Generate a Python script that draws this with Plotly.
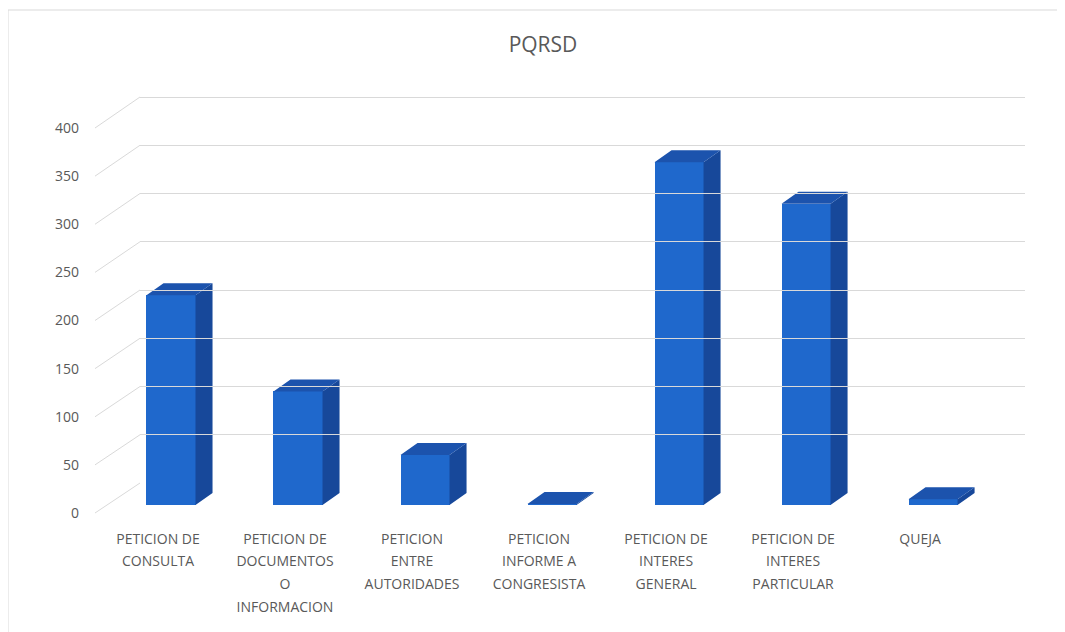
import plotly.graph_objects as go

# datos
categorias = [
    ['PETICION DE', 'CONSULTA'],
    ['PETICION DE', 'DOCUMENTOS', 'O', 'INFORMACION'],
    ['PETICION', 'ENTRE', 'AUTORIDADES'],
    ['PETICION', 'INFORME A', 'CONGRESISTA'],
    ['PETICION DE', 'INTERES', 'GENERAL'],
    ['PETICION DE', 'INTERES', 'PARTICULAR'],
    ['QUEJA'],
]
valores = [218, 118, 52, 1, 356, 313, 6]
y_ticks = [0, 50, 100, 150, 200, 250, 300, 350, 400]

W, H = 1065, 632
OFF = 8  # margen del body de la pagina
gris = '#595959'

# geometria en pixeles (frente de las barras y pared del fondo)
front_x = (100, 1025)
front_y0, front_y400 = 505, 120
back_x = (140, 1025)
back_y0, back_y400 = 483, 97
x_rng = (-0.559, 6.724)
y_top = 420  # un poco mas que 400 para que se vea la ultima linea

ancho = 0.386         # ancho de la barra en unidades de categoria
dx, dy = 0.134, 12.5  # profundidad de la barra


def px(v):
    return (v - OFF) / W


def py(v):
    return (H - (v - OFF)) / H


def escala(y0, y400, v):
    return y0 - (y0 - y400) * v / 400


frente_c = '#1f68cc'
lado_c = '#17489a'
tapa_c = '#1c53ad'

# etiquetas con interlineado amplio
ticktext = ['<br>'.join(f'<span style="font-size:14px">{s}</span>' for s in c)
            for c in categorias]

fig = go.Figure()

xs = list(range(len(valores)))

# eje de la pared del fondo (solo lineas de cuadricula)
fig.add_trace(go.Scatter(x=[0], y=[0], xaxis='x2', yaxis='y2', mode='markers',
                         marker=dict(opacity=0), hoverinfo='skip', showlegend=False))

fig.add_trace(go.Bar(
    x=xs, y=valores, width=ancho,
    marker=dict(color=frente_c, line=dict(width=0)),
    hoverinfo='y', showlegend=False
))

# caras laterales y superiores
lx, ly, tx, ty = [], [], [], []
for x, v in zip(xs, valores):
    r = x + ancho / 2
    l = x - ancho / 2
    lx += [r, r + dx, r + dx, r, r, None]
    ly += [0, dy, v + dy, v, 0, None]
    tx += [l, l + dx, r + dx, r, l, None]
    ty += [v, v + dy, v + dy, v, v, None]

fig.add_trace(go.Scatter(x=lx, y=ly, fill='toself', fillcolor=lado_c, mode='lines',
                         line=dict(width=0, color=lado_c), hoverinfo='skip', showlegend=False))
fig.add_trace(go.Scatter(x=tx, y=ty, fill='toself', fillcolor=tapa_c, mode='lines',
                         line=dict(width=0, color=tapa_c), hoverinfo='skip', showlegend=False))

# lineas diagonales entre etiquetas y pared
shapes = []
for t in y_ticks:
    yf = escala(front_y0, front_y400, t) + 8
    yb = escala(back_y0, back_y400, t)
    shapes.append(dict(type='line', xref='paper', yref='paper',
                       x0=px(95), y0=py(yf), x1=px(back_x[0]), y1=py(yb),
                       line=dict(color='#d9d9d9', width=1), layer='below'))

# borde del grafico
shapes.append(dict(type='rect', xref='paper', yref='paper',
                   x0=px(8), y0=-0.02, x1=px(1061), y1=py(10),
                   line=dict(color='#d9d9d9', width=1), layer='below'))

fig.update_layout(
    width=W, height=H,
    margin=dict(l=0, r=0, t=0, b=0, autoexpand=False),
    paper_bgcolor='white',
    plot_bgcolor='rgba(0,0,0,0)',
    font=dict(family='Open Sans', color=gris, size=12),
    title=dict(text='PQRSD', x=px(543), xanchor='center', y=py(45), yanchor='middle',
               font=dict(size=21, color=gris)),
    xaxis=dict(domain=[px(front_x[0]), px(front_x[1])], range=list(x_rng),
               tickmode='array', tickvals=xs, ticktext=ticktext,
               showgrid=False, zeroline=False, showline=False, ticks='',
               ticklabelstandoff=20, ticklabelshift=-13,
               tickfont=dict(size=17.5, color=gris), fixedrange=True),
    yaxis=dict(domain=[py(front_y0), py(front_y400)], range=[0, 400],
               tickvals=y_ticks, showgrid=False, zeroline=False, showline=False,
               ticks='', ticklabelshift=8, ticklabelstandoff=20,
               tickfont=dict(size=14, color=gris), fixedrange=True),
    xaxis2=dict(domain=[px(back_x[0]), px(back_x[1])], range=[0, 1], visible=False,
                anchor='y2'),
    yaxis2=dict(domain=[py(back_y0), py(escala(back_y0, back_y400, y_top))],
                range=[0, y_top], anchor='x2',
                tickvals=y_ticks, showgrid=True, gridcolor='#d9d9d9', gridwidth=1,
                zeroline=False, showline=False, showticklabels=False, ticks=''),
    shapes=shapes,
    bargap=0,
)

fig.write_html('out.html')
